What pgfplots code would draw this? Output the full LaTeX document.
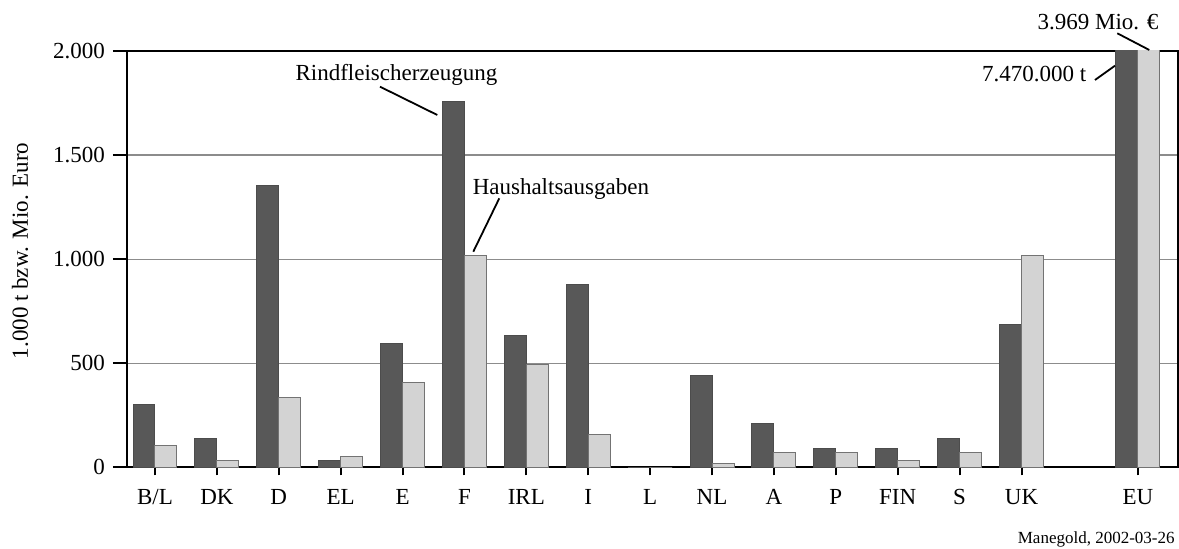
\documentclass[border=0pt]{standalone}
\usepackage{fontspec}
\setmainfont{Liberation Serif}
\usepackage{pgfplots}
\pgfplotsset{compat=1.18}
\definecolor{darkbar}{RGB}{88,88,88}
\definecolor{lightbar}{RGB}{211,211,211}
\definecolor{gridgray}{RGB}{140,140,140}
\begin{document}
\fontsize{11.5}{13}\selectfont
\begin{tikzpicture}
\begin{axis}[name=ax, at={(0,0)}, anchor=south west,
  scale only axis, width=525.25pt, height=208.15pt,
  xmin=-0.452, xmax=16.52, ymin=0, ymax=2000,
  ybar=0pt, bar width=0.355,
  xtick={0,1,2,3,4,5,6,7,8,9,10,11,12,13,14,15.88},
  xticklabels={B/L,DK,D,EL,E,F,IRL,I,L,NL,A,P,FIN,S,UK,EU},
  ytick={0,500,1000,1500,2000},
  yticklabels={0,500,1.000,1.500,2.000},
  tick align=outside, tick pos=left,
  major tick length=7pt,
  xtick style={/pgfplots/major tick length=4pt},
  tick style={black, line width=1pt},
  ymajorgrids, grid style={gridgray, line width=0.6pt},
  axis line style={line width=1pt},
  every tick label/.append style={font=\fontsize{11.5}{13}\selectfont},
  /pgf/number format/assume math mode=true,
  clip mode=individual,
]
\addplot[fill=darkbar, draw=black!70, line width=0.5pt] coordinates {
  (0,300) (1,139) (2,1354) (3,35) (4,596) (5,1756) (6,633) (7,878) (8,0)
  (9,439) (10,211) (11,89) (12,89) (13,139) (14,686) (15.88,7470)};
\addplot[fill=lightbar, draw=black!55, line width=0.5pt] coordinates {
  (0,104) (1,35) (2,333) (3,53) (4,405) (5,1019) (6,495) (7,159) (8,0)
  (9,17) (10,72) (11,72) (12,35) (13,72) (14,1019) (15.88,3969)};
\end{axis}
\begin{scope}[shift={(ax.south west)}, xshift=-63.5pt, yshift=233.65pt, x=0.5pt, y=-0.5pt]
  \node[rotate=90, inner sep=0pt] at (20,251) {1.000 t bzw. Mio. Euro};
  \node[anchor=base, inner sep=0pt] at (396.5,80.7) {Rindfleischerzeugung};
  \draw[line width=0.9pt] (380,86.7) -- (437.3,115);
  \node[anchor=base, inner sep=0pt] at (560.9,195) {Haushaltsausgaben};
  \draw[line width=0.9pt] (499.3,198.3) -- (473.3,251.7);
  \node[anchor=base, inner sep=0pt] at (1098,30) {3.969 Mio. €};
  \draw[line width=0.9pt] (1117.3,33.3) -- (1149.3,50);
  \node[anchor=base, inner sep=0pt] at (1034.2,81.7) {7.470.000 t};
  \draw[line width=0.9pt] (1095,80) -- (1115,65.7);
  \node[anchor=base east, inner sep=0pt, font=\fontsize{8.5}{10}\selectfont] at (1175,544) {Manegold, 2002-03-26};
  \pgfresetboundingbox
  \path[use as bounding box] (0,0) rectangle (1179,549);
\end{scope}
\end{tikzpicture}
\end{document}
